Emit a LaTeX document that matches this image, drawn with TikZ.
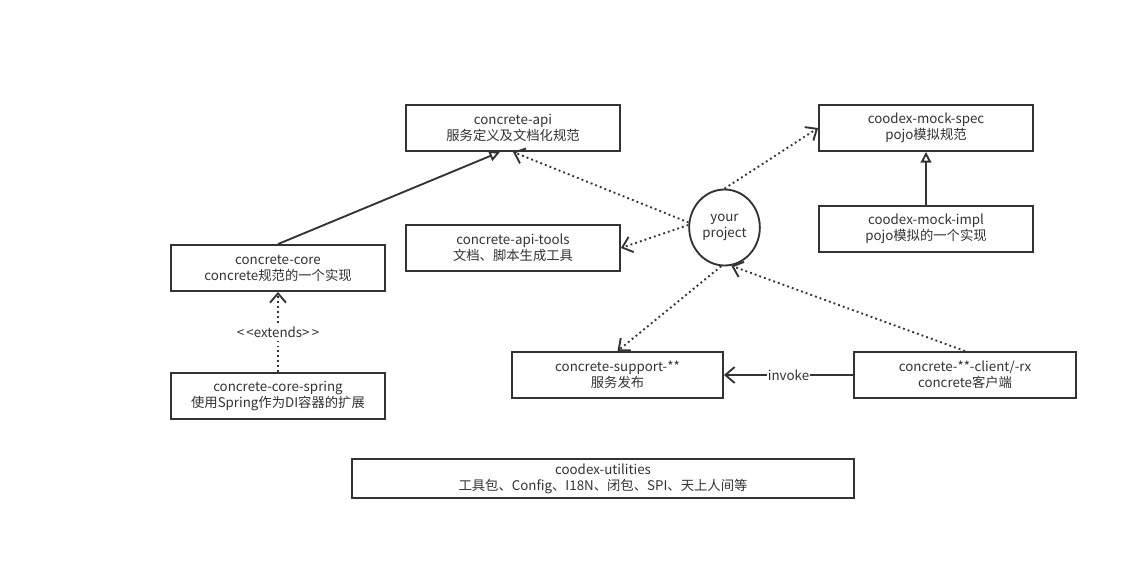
\documentclass[tikz,border=0pt]{standalone}
\usepackage{fontspec}
\setmainfont{Noto Sans CJK SC}
\usetikzlibrary{arrows.meta,shapes.geometric}

\definecolor{ink}{HTML}{333333}

\begin{document}
\begin{tikzpicture}[x=0.75pt, y=-0.75pt, ink, line width=1.4pt,
    every node/.style={font=\fontsize{10}{12}\selectfont, align=center, text=ink},
    module/.style={draw, fill=white, minimum width=160.5pt, minimum height=34.5pt, inner sep=0pt},
    dep/.style={dash pattern=on 1.4pt off 2.3pt, -{Straight Barb[length=7pt,width=12pt]}},
    call/.style={-{Straight Barb[length=7pt,width=12pt]}},
    inherit/.style={-{Triangle[open, length=8pt, width=8pt, fill=white]}}]
    \useasboundingbox (0,0) rectangle (1137,560);

    % modules
    \node[module] (api) at (513,128) {concrete-api\\服务定义及文档化规范};
    \node[module] (spec) at (926,128) {coodex-mock-spec\\pojo模拟规范};
    \node[module] (tools) at (513,248) {concrete-api-tools\\文档、脚本生成工具};
    \node[module] (impl) at (926,229) {coodex-mock-impl\\pojo模拟的一个实现};
    \node[module] (core) at (278,268) {concrete-core\\concrete规范的一个实现};
    \node[module] (spring) at (278,396) {concrete-core-spring\\使用Spring作为DI容器的扩展};
    \node[module, minimum width=158.25pt] (support) at (617.5,375) {concrete-support-**\\服务发布};
    \node[module, minimum width=166.5pt] (client) at (965,375) {concrete-**-client/-rx\\concrete客户端};
    \node[module, minimum width=376.5pt, minimum height=29.25pt] (utils) at (603,478.5) {coodex-utilities\\工具包、Config、I18N、闭包、SPI、天上人间等};
    \node[draw, ellipse, minimum width=53pt, minimum height=57pt, inner sep=0pt] (proj) at (724.5,227.5) {your\\project};

    % inheritance
    \draw[inherit] (core.north) -- ([xshift=-9.75pt]api.south);
    \draw[inherit] (impl) -- (spec);
    \draw[dep] (spring) -- node[fill=white, inner sep=1pt] {<\,<extends>\,>} (core);

    % project dependencies
    \draw[dep] (proj.172) -- (api.south);
    \draw[dep] (proj.176) -- (tools.east);
    \draw[dep] (proj.north) -- (spec.west);
    \draw[dep] (proj.-95) -- (support.north);
    \draw[dep] (client.north) -- (proj.-80);
    \draw[call] (client) -- node[fill=white, inner sep=1pt] {invoke} (support);
\end{tikzpicture}
\end{document}
